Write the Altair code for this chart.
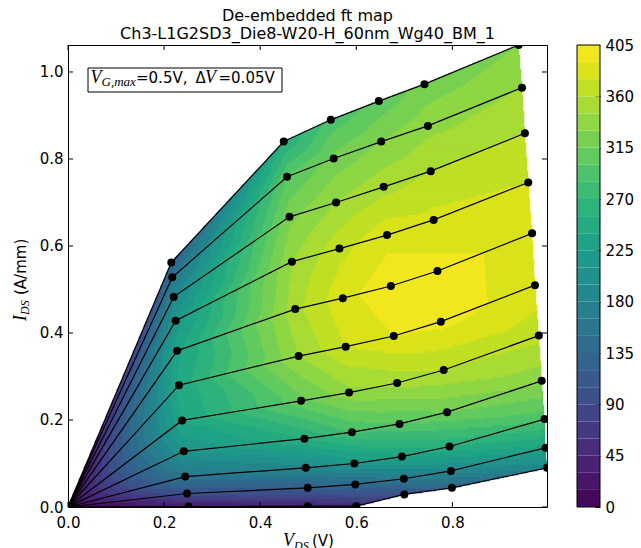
import altair as alt
import numpy as np
import pandas as pd

# ---------------- data ----------------
# one list per V_GS curve (top curve = V_G,max), six measured points each (origin excluded)
VDS = [
    [0.215, 0.449, 0.547, 0.647, 0.742, 0.938],
    [0.217, 0.456, 0.553, 0.652, 0.749, 0.945],
    [0.220, 0.461, 0.558, 0.657, 0.755, 0.951],
    [0.224, 0.466, 0.565, 0.664, 0.761, 0.958],
    [0.227, 0.473, 0.572, 0.672, 0.769, 0.966],
    [0.231, 0.480, 0.578, 0.678, 0.776, 0.972],
    [0.2375, 0.485, 0.585, 0.685, 0.782, 0.980],
    [0.241, 0.492, 0.591, 0.690, 0.789, 0.986],
    [0.244, 0.495, 0.596, 0.695, 0.794, 0.992],
    [0.248, 0.499, 0.598, 0.699, 0.797, 0.994],
    [0.251, 0.499, 0.600, 0.700, 0.799, 0.997],
]
IDS = [
    [0.562, 0.840, 0.890, 0.933, 0.972, 1.062],
    [0.528, 0.759, 0.801, 0.840, 0.876, 0.964],
    [0.483, 0.667, 0.700, 0.736, 0.772, 0.859],
    [0.428, 0.564, 0.594, 0.625, 0.660, 0.746],
    [0.359, 0.455, 0.480, 0.508, 0.5425, 0.629],
    [0.280, 0.347, 0.3685, 0.393, 0.426, 0.510],
    [0.199, 0.244, 0.263, 0.285, 0.315, 0.394],
    [0.128, 0.157, 0.172, 0.191, 0.218, 0.290],
    [0.070, 0.090, 0.100, 0.116, 0.139, 0.202],
    [0.031, 0.044, 0.052, 0.065, 0.083, 0.136],
    [0.001, 0.002, 0.002, 0.029, 0.044, 0.090],
]
FT = [
    [125, 255, 290, 305, 320, 330],
    [160, 300, 320, 330, 340, 345],
    [190, 325, 345, 355, 360, 360],
    [215, 345, 370, 385, 380, 375],
    [235, 355, 385, 400, 395, 385],
    [245, 345, 375, 390, 395, 385],
    [240, 310, 340, 350, 360, 365],
    [210, 255, 285, 300, 315, 335],
    [160, 190, 215, 235, 255, 290],
    [100, 120, 140, 165, 190, 235],
    [25, 40, 50, 100, 130, 185],
]
FT_ORIGIN = 0.0

X_TICKS = [0.0, 0.2, 0.4, 0.6, 0.8]
Y_TICKS = [0.0, 0.2, 0.4, 0.6, 0.8, 1.0]
CB_TICKS = [0, 45, 90, 135, 180, 225, 270, 315, 360, 405]
LEVEL_STEP = 15
LEVEL_MAX = 405
TITLE_LINES = ["De-embedded ft map", "Ch3-L1G2SD3_Die8-W20-H_60nm_Wg40_BM_1"]
CB_LABEL = "ft (GHz)"

# ---------------- layout ----------------
W, H = 479, 462
XMAX = max(max(r) for r in VDS)
YMAX = max(max(r) for r in IDS)
FONT = "DejaVu Sans"
SERIF = "Liberation Serif"

# ---------------- filled contour (triangulated, banded) ----------------
ncurve, npt = len(VDS), len(VDS[0])
tris = []
O = (0.0, 0.0, FT_ORIGIN)
P = [[(VDS[k][j], IDS[k][j], FT[k][j]) for j in range(npt)] for k in range(ncurve)]
for k in range(ncurve - 1):
    tris.append((O, P[k][0], P[k + 1][0]))
    for j in range(npt - 1):
        tris.append((P[k][j], P[k][j + 1], P[k + 1][j + 1]))
        tris.append((P[k][j], P[k + 1][j + 1], P[k + 1][j]))

ny, nx = H // 2, W
dx, dy = XMAX / nx, YMAX / ny
xc = (np.arange(nx) + 0.5) * dx
yc = (np.arange(ny) + 0.5) * dy
XX, YY = np.meshgrid(xc, yc)
V = np.full(XX.shape, np.nan)
for (x1, y1, f1), (x2, y2, f2), (x3, y3, f3) in tris:
    den = (y2 - y3) * (x1 - x3) + (x3 - x2) * (y1 - y3)
    if abs(den) < 1e-15:
        continue
    l1 = ((y2 - y3) * (XX - x3) + (x3 - x2) * (YY - y3)) / den
    l2 = ((y3 - y1) * (XX - x3) + (x1 - x3) * (YY - y3)) / den
    l3 = 1 - l1 - l2
    m = (l1 >= -1e-9) & (l2 >= -1e-9) & (l3 >= -1e-9) & np.isnan(V)
    V[m] = (l1 * f1 + l2 * f2 + l3 * f3)[m]

nlev = LEVEL_MAX // LEVEL_STEP
rows = []
for r in range(ny):
    row = V[r]
    band = np.where(np.isnan(row), -1, np.clip(np.floor(np.nan_to_num(row) / LEVEL_STEP), 0, nlev - 1)).astype(int)
    c = 0
    while c < nx:
        b = band[c]
        c1 = c
        while c1 + 1 < nx and band[c1 + 1] == b:
            c1 += 1
        if b >= 0:
            rows.append({"x": round(c * dx, 5), "x2": round((c1 + 1) * dx, 5),
                         "y": round(r * dy, 5), "y2": round((r + 1) * dy, 5),
                         "v": b * LEVEL_STEP + LEVEL_STEP / 2})
        c = c1 + 1
fill_df = pd.DataFrame(rows)

pts = []
for k in range(ncurve):
    pts.append({"curve": k, "i": 0, "vds": 0.0, "ids": 0.0})
    for j in range(npt):
        pts.append({"curve": k, "i": j + 1, "vds": VDS[k][j], "ids": IDS[k][j]})
pts_df = pd.DataFrame(pts)

xs = alt.Scale(domain=[0, XMAX], nice=False, zero=False)
ys = alt.Scale(domain=[0, YMAX], nice=False, zero=False)
cs = alt.Scale(scheme="viridis", domain=[0, LEVEL_MAX])

fill = alt.Chart(fill_df).mark_rect(clip=True, strokeWidth=0.5).encode(
    x=alt.X("x:Q", scale=xs, axis=alt.Axis(values=X_TICKS, format=".1f", title=None, grid=False,
                                          domain=False, ticks=False, labelFont=FONT, labelFontSize=15,
                                          labelColor="black", labelPadding=8, labelFlush=False)),
    x2="x2:Q",
    y=alt.Y("y:Q", scale=ys, axis=alt.Axis(values=Y_TICKS, format=".1f", title=None, grid=False,
                                          domain=False, ticks=False, labelFont=FONT, labelFontSize=15,
                                          labelColor="black", labelPadding=5, labelFlush=False)),
    y2="y2:Q",
    color=alt.Color("v:Q", scale=cs, legend=None),
    stroke=alt.Stroke("v:Q", scale=cs, legend=None),
)

lines = alt.Chart(pts_df).mark_line(color="black", strokeWidth=1.2, clip=True).encode(
    x=alt.X("vds:Q", scale=xs), y=alt.Y("ids:Q", scale=ys),
    detail="curve:N", order="i:Q")

dots = alt.Chart(pts_df[pts_df["i"] > 0]).mark_circle(color="black", size=64, opacity=1, clip=True).encode(
    x=alt.X("vds:Q", scale=xs), y=alt.Y("ids:Q", scale=ys))

xt = pd.DataFrame({"t": X_TICKS})
yt = pd.DataFrame({"t": Y_TICKS})
tick_b = alt.Chart(xt).mark_rule(color="black").encode(x=alt.X("t:Q", scale=xs), y=alt.value(H), y2=alt.value(H - 5))
tick_t = alt.Chart(xt).mark_rule(color="black").encode(x=alt.X("t:Q", scale=xs), y=alt.value(0), y2=alt.value(5))
tick_l = alt.Chart(yt).mark_rule(color="black").encode(y=alt.Y("t:Q", scale=ys), x=alt.value(0), x2=alt.value(5))
tick_r = alt.Chart(yt).mark_rule(color="black").encode(y=alt.Y("t:Q", scale=ys), x=alt.value(W - 5), x2=alt.value(W))

one = pd.DataFrame({"a": [0]})
box = alt.Chart(one).mark_rect(fill="white", stroke="black", strokeWidth=1).encode(
    x=alt.value(20), x2=alt.value(214), y=alt.value(23), y2=alt.value(47))


def txt(s, x, y, size=15, font=FONT, style="normal", angle=0, align="left"):
    return alt.Chart(one).mark_text(text=s, font=font, fontSize=size, fontStyle=style, align=align,
                                    baseline="alphabetic", color="black", angle=angle).encode(
        x=alt.value(x), y=alt.value(y))


ann = [
    txt("V", 22.5, 37.5, 18, SERIF, "italic"),
    txt("G,max", 33.5, 41, 13, SERIF, "italic"),
    txt("=0.5V,", 68, 37.5, 15),
    txt("\u0394", 127.5, 37.5, 15),
    txt("V", 137, 37.5, 18, SERIF, "italic"),
    txt("=0.05V", 150.5, 37.5, 15),
    # x-axis title
    txt("V", 215, 501, 18, SERIF, "italic"),
    txt("DS", 226, 505, 12, SERIF, "italic"),
    txt("(V)", 244, 501, 15),
    # y-axis title (rotated)
    txt("I", -42, 276, 18, SERIF, "italic", 270),
    txt("DS", -39, 270, 12, SERIF, "italic", 270),
    txt("(A/mm)", -42, 250, 15, FONT, "normal", 270),
    # colourbar label (mostly outside the picture, as in the reference)
    txt(CB_LABEL, 586, 232, 15, FONT, "normal", 270, "center"),
]

main = alt.layer(fill, lines, dots, tick_b, tick_t, tick_l, tick_r, box, *ann)

cb_df = pd.DataFrame({"lo": [i * LEVEL_STEP for i in range(nlev)]})
cb_df["hi"] = cb_df["lo"] + LEVEL_STEP
cb_df["mid"] = cb_df["lo"] + LEVEL_STEP / 2
cbs = alt.Scale(domain=[0, LEVEL_MAX], nice=False, zero=False)
cbar = alt.Chart(cb_df).mark_rect().encode(
    x=alt.value(509), x2=alt.value(532),
    y=alt.Y("lo:Q", scale=cbs, axis=alt.Axis(orient="right", offset=48, values=CB_TICKS, title=None,
                                            grid=False, domain=False, ticks=True, tickSize=5,
                                            tickColor="black", labelFont=FONT, labelFontSize=15,
                                            labelColor="black", labelPadding=5, labelFlush=False)),
    y2="hi:Q",
    color=alt.Color("mid:Q", scale=cs, legend=None),
)
cbframe = alt.Chart(one).mark_rect(fill=None, stroke="black", strokeWidth=1).encode(
    x=alt.value(509), x2=alt.value(532), y=alt.value(0), y2=alt.value(H))

chart = alt.layer(main, cbar, cbframe).resolve_scale(y="independent").properties(
    width=W, height=H,
    autosize=alt.AutoSizeParams(type="none"),
    padding={"left": 68, "top": 45, "right": 641 - 68 - W, "bottom": 548 - 45 - H},
    title=alt.TitleParams(TITLE_LINES, font=FONT, fontSize=16, fontWeight="normal", color="black",
                          anchor="middle", frame="group", offset=-4, lineHeight=18),
).configure_view(stroke="black", strokeWidth=1)

chart.save("out.html", embed_options={"renderer": "svg", "actions": False})
